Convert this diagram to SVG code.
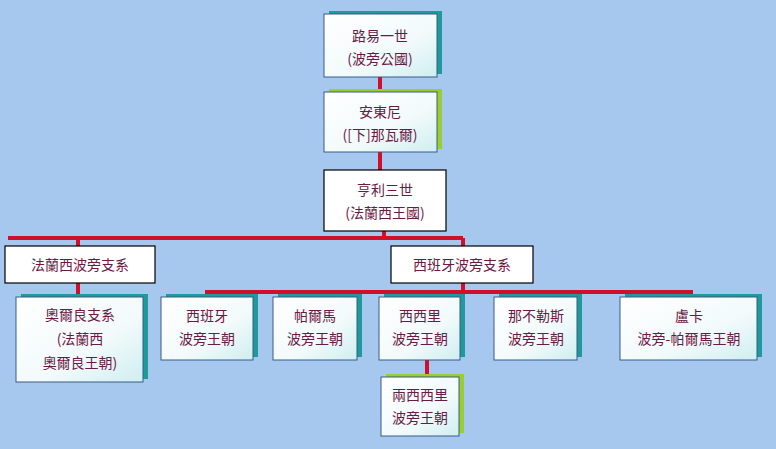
<svg xmlns="http://www.w3.org/2000/svg" width="776" height="449" viewBox="0 0 776 449">
<style>
text{font-family:"Noto Sans CJK TC","Noto Sans CJK SC",sans-serif;font-size:14px;fill:#6b1a45;text-anchor:middle}
.b{stroke:#3a5a8a;stroke-width:1;fill:url(#g)}
.w{stroke:#000;stroke-width:1.2;fill:#fff}
.sh{fill:#1f9a9a}
.c{stroke:#d0102a;stroke-width:4;fill:none}
</style>
<defs><linearGradient id="g" x1="0" y1="0" x2="1" y2="1"><stop offset="0" stop-color="#ffffff"/><stop offset="0.6" stop-color="#f2fafb"/><stop offset="1" stop-color="#cfeef0"/></linearGradient></defs>
<rect width="776" height="449" fill="#a7c8ee"/>
<g id="connectors">
<path class="c" d="M380 77V92M380 152V170M384 231V238M8 238H463M78 238V246M463 238V246M463 283V292M205 292H693M207 292V297M316 292V297M420 292V297M536 292V297M690 292V297M78 283V297M427 360V377"/>
</g>
<g id="n1"><rect class="sh" x="329" y="11" width="113" height="63"/><rect class="b" x="324" y="14" width="113" height="63"/><text x="380" y="41">路易一世</text><text x="380" y="64">(波旁公國)</text></g>
<g id="n2"><rect fill="#9acd32" x="329" y="89" width="113" height="60"/><rect class="b" x="324" y="92" width="113" height="60"/><text x="380" y="117">安東尼</text><text x="380" y="140">([下]那瓦爾)</text></g>
<g id="n3"><rect class="w" x="324" y="170" width="122" height="61"/><text x="385" y="195">亨利三世</text><text x="385" y="218">(法蘭西王國)</text></g>
<g id="n4"><rect class="w" x="5" y="246" width="150" height="37"/><text x="80" y="270">法蘭西波旁支系</text></g>
<g id="n5"><rect class="w" x="391" y="246" width="142" height="37"/><text x="462" y="270">西班牙波旁支系</text></g>
<g id="n6"><rect class="sh" x="21" y="294" width="127" height="85"/><rect class="b" x="16" y="297" width="127" height="85"/><text x="80" y="320">奧爾良支系</text><text x="80" y="344">(法蘭西</text><text x="80" y="368">奧爾良王朝)</text></g>
<g id="n7"><rect class="sh" x="166" y="294" width="92" height="63"/><rect class="b" x="161" y="297" width="92" height="63"/><text x="207" y="321">西班牙</text><text x="207" y="344">波旁王朝</text></g>
<g id="n8"><rect class="sh" x="278" y="294" width="84" height="63"/><rect class="b" x="273" y="297" width="84" height="63"/><text x="315" y="321">帕爾馬</text><text x="315" y="344">波旁王朝</text></g>
<g id="n9"><rect class="sh" x="384" y="294" width="81" height="63"/><rect class="b" x="379" y="297" width="81" height="63"/><text x="420" y="321">西西里</text><text x="420" y="344">波旁王朝</text></g>
<g id="n10"><rect class="sh" x="499" y="294" width="83" height="63"/><rect class="b" x="494" y="297" width="83" height="63"/><text x="536" y="321">那不勒斯</text><text x="536" y="344">波旁王朝</text></g>
<g id="n11"><rect class="sh" x="625" y="294" width="137" height="63"/><rect class="b" x="620" y="297" width="137" height="63"/><text x="689" y="321">盧卡</text><text x="689" y="344">波旁-帕爾馬王朝</text></g>
<g id="n12"><rect fill="#9acd32" x="386" y="374" width="78" height="59"/><rect class="b" x="381" y="377" width="78" height="59"/><text x="420" y="400">兩西西里</text><text x="420" y="423">波旁王朝</text></g>
</svg>
